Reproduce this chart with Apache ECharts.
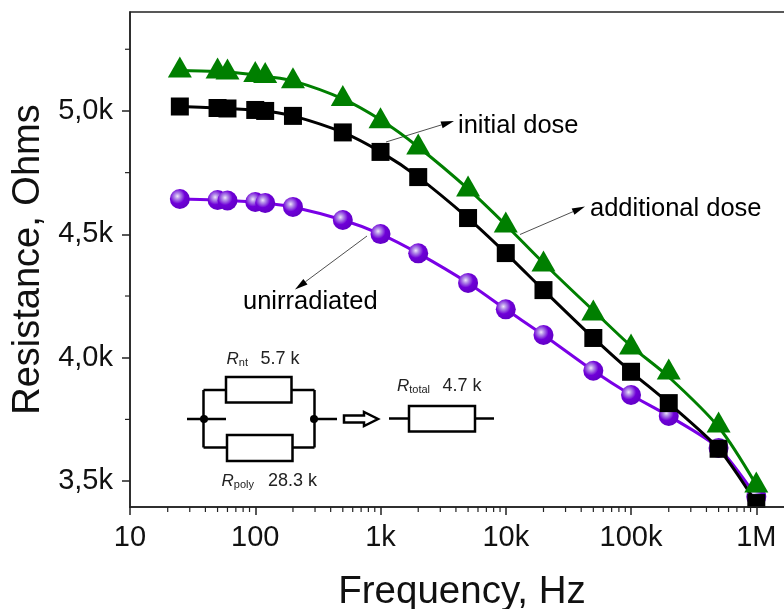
<!DOCTYPE html>
<html>
<head>
<meta charset="utf-8">
<style>
    html, body {margin: 0; padding: 0; background: #fff; overflow: hidden;}
    #chart {width: 784px; height: 609px;}
</style>
<script src="https://cdn.jsdelivr.net/npm/echarts@6/dist/echarts.min.js"></script>
</head>
<body>
<div id="chart"></div>
<script>
const frequency = [25, 50, 60, 100, 120, 200, 500, 1e3, 2e3, 5e3, 1e4, 2e4, 5e4, 1e5, 2e5, 5e5, 1e6];
const unirradiated = [4643, 4639, 4637, 4631, 4627, 4611, 4558, 4501, 4423, 4303, 4196, 4092, 3947, 3849, 3764, 3634, 3437];
const initialDose = [5018, 5012, 5010, 5004, 5000, 4980, 4913, 4834, 4732, 4566, 4424, 4274, 4080, 3943, 3816, 3631, 3411];
const additionalDose = [5166, 5162, 5158, 5148, 5144, 5122, 5050, 4960, 4854, 4684, 4538, 4380, 4181, 4043, 3942, 3727, 3484];
// the green curve is a fit, it does not run through every triangle
const additionalDoseFit = [5164, 5160, 5158, 5146, 5140, 5122, 5049, 4964, 4854, 4684, 4538, 4384, 4191, 4047, 3922, 3719, 3484];

const xMin = 10;
const xMax = 2e6;
const yMin = 3395;
const yMax = 5401;
const xTickLabels = {10: '10', 100: '100', 1000: '1k', 10000: '10k', 100000: '100k', 1000000: '1M'};
const yTicks = [3500, 4000, 4500, 5000];
const yMinorTicks = [3750, 4250, 4750, 5250];
const xMinorSteps = [2, 3, 4, 5, 6, 7, 8, 9];
const xDecades = [10, 100, 1000, 10000, 100000];

const FONT = '"Liberation Sans", Arial, sans-serif';
const GREEN = '#007f00';
const PURPLE = '#7a00e6';

const xMinorTicks = [];
xDecades.forEach(decade => xMinorSteps.forEach(step => xMinorTicks.push(decade * step)));

function makeLine (x1, y1, x2, y2, width) {
    return {
        type: 'line',
        z: 3,
        shape: {x1, y1, x2, y2},
        style: {stroke: '#000', lineWidth: width}
    };
}

function makeBox (x, y, width, height) {
    return {
        type: 'rect',
        z: 3,
        shape: {x, y, width, height},
        style: {fill: '#fff', stroke: '#000', lineWidth: 2.5}
    };
}

function makeArrow (x1, y1, x2, y2) {
    const angle = Math.atan2(y2 - y1, x2 - x1);
    const len = 13;
    const half = 3.5;
    const bx = x2 - len * Math.cos(angle);
    const by = y2 - len * Math.sin(angle);
    const nx = -Math.sin(angle) * half;
    const ny = Math.cos(angle) * half;
    return [
        {type: 'line', z: 0, shape: {x1, y1, x2: bx, y2: by}, style: {stroke: '#222', lineWidth: 0.8}},
        {type: 'polygon', z: 0, shape: {points: [[x2, y2], [bx + nx, by + ny], [bx - nx, by - ny]]}, style: {fill: '#000'}}
    ];
}

function makeLabel (text, x, y) {
    return {
        type: 'text',
        z: 3,
        x,
        y,
        style: {text, font: '25.5px ' + FONT, fill: '#000', textVerticalAlign: 'middle'}
    };
}

// R with a small name next to it, then the value
function makeResistorLabel (name, value, x, valueX, baseline) {
    return [
        {
            type: 'text', z: 3, x, y: baseline + 3,
            style: {
                text: '{r|R}{s|' + name + '}',
                textVerticalAlign: 'bottom',
                rich: {
                    r: {font: 'italic 17px ' + FONT, fill: '#222'},
                    s: {font: '11px ' + FONT, fill: '#222', verticalAlign: 'bottom', padding: [0, 0, 0, 0]}
                }
            }
        },
        {
            type: 'text', z: 3, x: valueX, y: baseline + 3,
            style: {text: value, font: '18px ' + FONT, fill: '#222', textVerticalAlign: 'bottom'}
        }
    ];
}

const circuit = [
    makeLine(187, 419, 226, 419, 2.5),
    makeLine(203.5, 390, 203.5, 447.5, 2.5),
    makeLine(203.5, 390, 226, 390, 2.5),
    makeLine(203.5, 447.5, 227, 447.5, 2.5),
    makeBox(226, 377, 65.5, 25.5),
    makeBox(227, 435, 65.5, 26),
    makeLine(291, 390, 314.5, 390, 2.5),
    makeLine(292, 447.5, 314.5, 447.5, 2.5),
    makeLine(314.5, 390, 314.5, 447.5, 2.5),
    makeLine(314.5, 419, 337, 419, 2.5),
    {type: 'circle', z: 3, shape: {cx: 204, cy: 419, r: 4}, style: {fill: '#000'}},
    {type: 'circle', z: 3, shape: {cx: 314, cy: 419, r: 4}, style: {fill: '#000'}},
    {
        type: 'polygon', z: 3,
        shape: {points: [[344, 415.5], [364, 415.5], [364, 412], [378, 419], [364, 426], [364, 422.5], [344, 422.5]]},
        style: {fill: '#fff', stroke: '#000', lineWidth: 2.5}
    },
    makeLine(389, 418.5, 409, 418.5, 2.5),
    makeBox(409, 406, 66, 25.5),
    makeLine(475, 418.5, 494, 418.5, 2.5)
];

const option = {
    animation: false,
    backgroundColor: '#fff',
    textStyle: {fontFamily: FONT},
    grid: {
        left: 130,
        top: 12,
        width: 664,
        height: 495,
        outerBoundsMode: 'none',
        show: true,
        borderColor: '#222',
        borderWidth: 1.5,
        backgroundColor: 'transparent'
    },
    xAxis: {
        type: 'log',
        logBase: 10,
        min: xMin,
        max: xMax,
        z: 10,
        name: 'Frequency, Hz',
        nameLocation: 'middle',
        nameGap: 66,
        nameTextStyle: {fontSize: 38.5, color: '#111', fontFamily: FONT},
        axisLine: {show: true, lineStyle: {color: '#222', width: 1.5}},
        axisTick: {show: true, inside: false, length: 8, lineStyle: {color: '#222', width: 1.5}},
        axisLabel: {
            fontSize: 29,
            color: '#111',
            margin: 16,
            showMinLabel: true,
            showMaxLabel: false,
            hideOverlap: false,
            formatter: value => xTickLabels[Math.round(value)] || ''
        },
        splitLine: {show: false},
        minorTick: {show: false}
    },
    yAxis: {
        type: 'value',
        min: yMin,
        max: yMax,
        z: 10,
        name: 'Resistance, Ohms',
        nameLocation: 'middle',
        nameGap: 80,
        nameTextStyle: {fontSize: 38, color: '#111', fontFamily: FONT},
        axisLine: {show: true, lineStyle: {color: '#222', width: 1.5}},
        axisTick: {show: true, length: 8, lineStyle: {color: '#222', width: 1.5}, customValues: yTicks},
        axisLabel: {
            fontSize: 29,
            color: '#111',
            margin: 17,
            padding: [4, 0, 0, 0],
            customValues: yTicks,
            formatter: value => (value / 1000).toFixed(1).replace('.', ',') + 'k'
        },
        splitLine: {show: false}
    },
    graphic: [
        // hides what the markers at 1M put below the axis
        {type: 'rect', z: 5, shape: {x: 735, y: 508, width: 49, height: 16}, style: {fill: '#fff'}},
        ...makeArrow(386, 142, 454, 121),
        ...makeArrow(520, 234.5, 585, 206.5),
        ...makeArrow(367, 236, 295, 289.5),
        makeLabel('initial dose', 458, 126),
        makeLabel('additional dose', 590, 209),
        makeLabel('unirradiated', 243, 302),
        ...circuit,
        ...makeResistorLabel('nt', '5.7 k', 226.5, 260.5, 365),
        ...makeResistorLabel('total', '4.7 k', 397, 442.5, 392),
        ...makeResistorLabel('poly', '28.3 k', 221.5, 268, 487)
    ],
    series: [
        {
            name: 'unirradiated',
            type: 'line',
            z: 2,
            smooth: 0.25,
            data: frequency.map((f, i) => [f, unirradiated[i]]),
            lineStyle: {color: PURPLE, width: 3},
            symbol: 'circle',
            symbolSize: 20,
            itemStyle: {
                color: {
                    type: 'radial', x: 0.38, y: 0.36, r: 0.62,
                    colorStops: [
                        {offset: 0, color: '#efe6fb'},
                        {offset: 0.22, color: '#b48fe8'},
                        {offset: 0.6, color: '#6f00d8'},
                        {offset: 1, color: '#6300c8'}
                    ]
                }
            }
        },
        {
            name: 'initial dose',
            type: 'line',
            z: 3,
            smooth: 0.25,
            data: frequency.map((f, i) => [f, initialDose[i]]),
            lineStyle: {color: '#000', width: 3},
            symbol: 'rect',
            symbolSize: 18,
            itemStyle: {color: '#000'}
        },
        {
            name: 'additional dose fit',
            type: 'line',
            z: 4,
            smooth: 0.3,
            data: frequency.map((f, i) => [f, additionalDoseFit[i]]),
            lineStyle: {color: GREEN, width: 3},
            symbol: 'none'
        },
        {
            name: 'additional dose',
            type: 'scatter',
            z: 4,
            data: frequency.map((f, i) => [f, additionalDose[i]]),
            symbol: 'triangle',
            symbolSize: [24, 21],
            symbolOffset: [0, -3],
            itemStyle: {color: GREEN, opacity: 1}
        },
        {
            name: 'x minor ticks',
            type: 'custom',
            z: 11,
            silent: true,
            data: xMinorTicks.map(v => [v, yMin]),
            encode: {x: 0, y: 1},
            renderItem: (params, api) => {
                const p = api.coord([api.value(0), api.value(1)]);
                return {
                    type: 'line',
                    shape: {x1: p[0], y1: p[1], x2: p[0], y2: p[1] + 5},
                    style: {stroke: '#222', lineWidth: 1.2}
                };
            }
        },
        {
            name: 'y minor ticks',
            type: 'custom',
            z: 11,
            silent: true,
            data: yMinorTicks.map(v => [xMin, v]),
            encode: {x: 0, y: 1},
            renderItem: (params, api) => {
                const p = api.coord([api.value(0), api.value(1)]);
                return {
                    type: 'line',
                    shape: {x1: p[0], y1: p[1], x2: p[0] - 5, y2: p[1]},
                    style: {stroke: '#222', lineWidth: 1.2}
                };
            }
        }
    ]
};

const chart = echarts.init(document.getElementById('chart'), null, {renderer: 'canvas'});
chart.setOption(option);
</script>
</body>
</html>
